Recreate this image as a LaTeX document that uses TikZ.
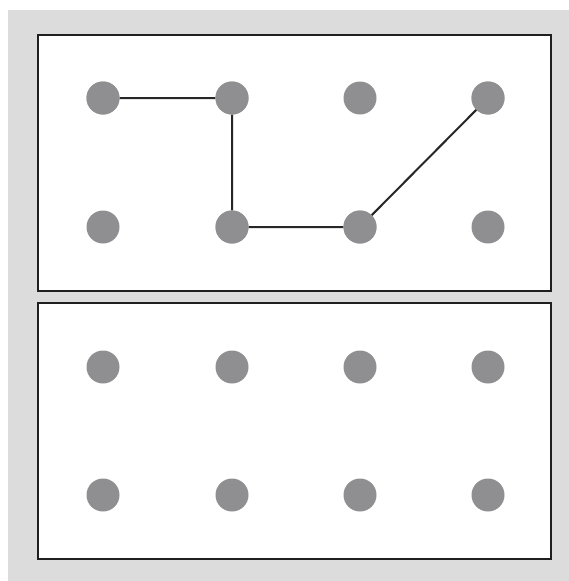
\documentclass[tikz,border=0pt]{standalone}
\begin{document}
\begin{tikzpicture}[x=1pt,y=-1pt,
  dot/.style={circle,fill=dotgray,draw=none,minimum size=33pt,inner sep=0pt},
  panel/.style={draw=black!88,line width=2.6pt,fill=white},
  link/.style={draw=black!85,line width=2pt}]
\definecolor{dotgray}{HTML}{8F8F91}
\definecolor{bggray}{HTML}{DCDCDC}
\useasboundingbox (0,0) rectangle (569,581);
\fill[white] (0,0) rectangle (569,581);
\fill[bggray] (8,10) rectangle (569,581);
\draw[panel] (38,35) rectangle (551,291);
\draw[panel] (38,303) rectangle (551,559);
\foreach \c [count=\i] in {103,232,360,488}{
  \node[dot] (a\i) at (\c,98) {};
  \node[dot] (b\i) at (\c,227) {};
  \node[dot] (c\i) at (\c,367) {};
  \node[dot] (d\i) at (\c,495) {};
}
\draw[link] (a1) -- (a2) -- (b2) -- (b3) -- (a4);
\foreach \n in {a1,a2,b2,b3,a4}{\node[dot] at (\n) {};}
\end{tikzpicture}
\end{document}
